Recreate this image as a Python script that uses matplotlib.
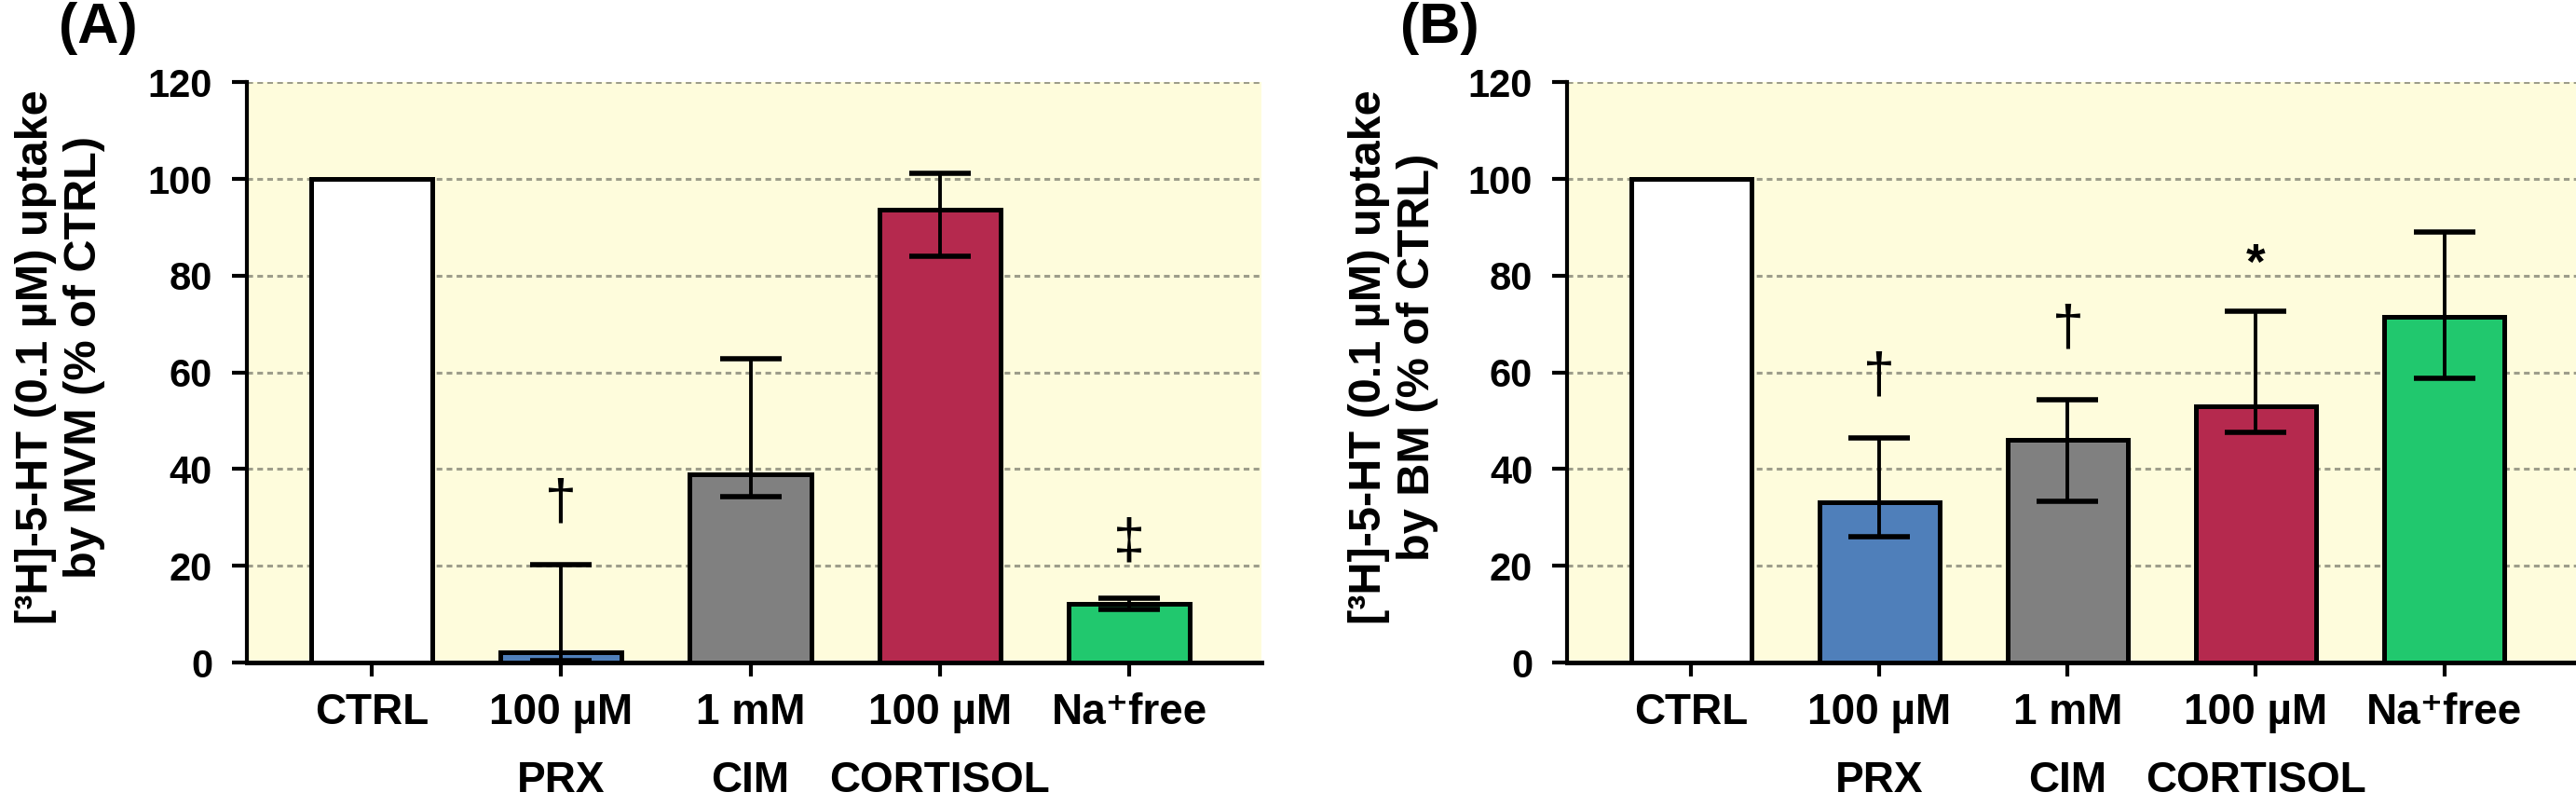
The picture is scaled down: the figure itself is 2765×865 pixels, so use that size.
import numpy as np
import matplotlib
matplotlib.use("Agg")
import matplotlib.pyplot as plt

plt.rcParams['font.family'] = ['Liberation Sans', 'DejaVu Sans']
plt.rcParams['font.weight'] = 'bold'

# data
groups = ["CTRL", "100 µM", "1 mM", "100 µM", "Na⁺free"]
drugs = ["", "PRX", "CIM", "CORTISOL", ""]
bar_colors = ["#ffffff", "#4f7fba", "#808080", "#b5294e", "#21c86e"]

mvm_mean = [100, 2.2, 39.0, 93.6, 12.1]
mvm_low = [0.3, 34.3, 84.1, 10.9]      # whisker ends for the 4 treatments
mvm_high = [20.3, 62.9, 101.2, 13.3]
mvm_marks = [("†", 1, 32.7), ("‡", 4, 24.7)]

bm_mean = [100, 33.1, 46.1, 53.0, 71.5]
bm_low = [26.1, 33.3, 47.6, 58.7]
bm_high = [46.4, 54.3, 72.7, 89.0]
bm_marks = [("†", 1, 59.0), ("†", 2, 68.7), ("*", 3, 82.0)]

yticks = [0, 20, 40, 60, 80, 100, 120]


def draw_panel(ax, mean, low, high, marks):
    x = np.arange(len(mean))
    ax.set_facecolor("#fefcdc")
    ax.set_axisbelow(True)
    ax.yaxis.grid(True, color="#9d9d8a", linewidth=2.2, linestyle=(0, (2.0, 1.5)))
    ax.bar(x, mean, width=0.64, color=bar_colors, edgecolor="black", linewidth=3.6, zorder=2)

    m = np.array(mean[1:])
    yerr = [m - np.array(low), np.array(high) - m]
    ax.errorbar(x[1:], m, yerr=yerr, fmt="none", ecolor="black",
                elinewidth=2.8, capsize=24, capthick=4.0, zorder=3)

    for sym, xi, yi in marks:
        if sym == "*":
            ax.text(xi, yi, sym, ha="center", va="center", fontsize=38, fontweight="bold", zorder=4)
        else:
            ax.text(xi, yi, sym, ha="center", va="center", fontsize=44, fontweight="normal",
                    family=["Liberation Sans", "DejaVu Sans"], zorder=4)

    ax.set_xlim(-0.66, 4.70)
    ax.set_ylim(0, 120)
    ax.set_yticks(yticks)
    ax.set_xticks(x)
    ax.set_xticklabels(groups, fontsize=33, fontweight="bold")
    for i, d in enumerate(drugs):
        if d:
            ax.text(i, -0.204, d, transform=ax.get_xaxis_transform(), ha="center", va="center",
                    fontsize=33, fontweight="bold")
    for lbl in ax.get_yticklabels():
        lbl.set_fontsize(30)
        lbl.set_fontweight("bold")

    ax.spines["top"].set_visible(False)
    ax.spines["right"].set_visible(False)
    ax.spines["left"].set_linewidth(3.0)
    ax.spines["bottom"].set_linewidth(3.6)
    ax.tick_params(axis="y", length=11.5, width=3.0, pad=15)
    ax.tick_params(axis="x", length=11, width=3.0, pad=12)


fig = plt.figure(figsize=(27.65, 8.65), dpi=100)
ax_a = fig.add_axes([0.0958, 0.178, 0.394, 0.720])
ax_b = fig.add_axes([0.6083, 0.178, 0.3917, 0.720])

draw_panel(ax_a, mvm_mean, mvm_low, mvm_high, mvm_marks)
draw_panel(ax_b, bm_mean, bm_low, bm_high, bm_marks)

fig.text(65 / 2765, 0.557, "[³H]-5-HT (0.1 µM) uptake\nby MVM (% of CTRL)", rotation=90,
         ha="center", va="center", fontsize=35, fontweight="bold", linespacing=1.2)
fig.text(1496 / 2765, 0.557, "[³H]-5-HT (0.1 µM) uptake\nby BM (% of CTRL)", rotation=90,
         ha="center", va="center", fontsize=35, fontweight="bold", linespacing=1.2)

fig.text(105 / 2765, 0.998, "(A)", ha="center", va="top", fontsize=44, fontweight="bold")
fig.text(1545 / 2765, 0.998, "(B)", ha="center", va="top", fontsize=44, fontweight="bold")

fig.savefig("out.png", dpi=100)
